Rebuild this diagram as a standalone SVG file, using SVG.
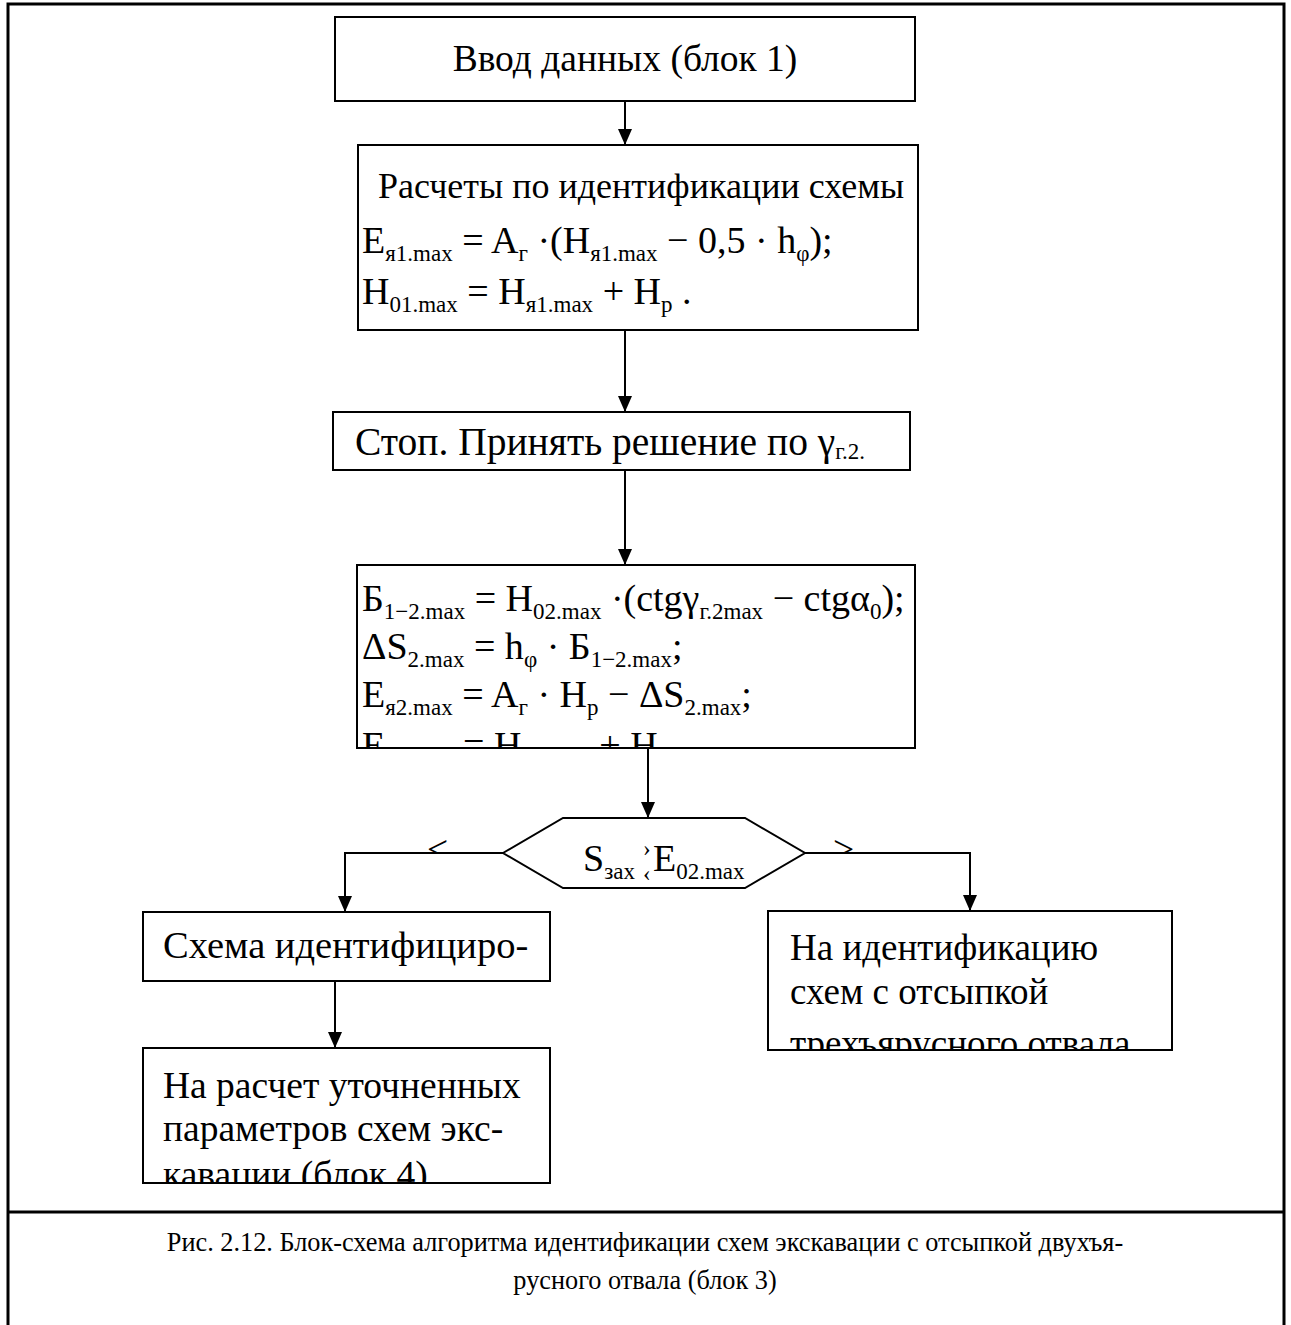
<svg xmlns="http://www.w3.org/2000/svg" width="1291" height="1325" viewBox="0 0 1291 1325">
<style>
.box{fill:#fff;stroke:#000;stroke-width:2}
.t{font-family:"Liberation Serif","Times New Roman",serif;font-size:37.5px;fill:#000}
.f{font-size:38px}
.s{font-size:23px}
.cap{font-size:26.3px}
.ln{stroke:#000;stroke-width:2;fill:none}
.frame{stroke:#000;stroke-width:3;fill:none}
</style>
<defs>
<marker id="ah" viewBox="0 0 16 14" refX="16" refY="7" markerWidth="16" markerHeight="14" markerUnits="userSpaceOnUse" orient="auto">
<path d="M0,0 L16,7 L0,14 z" fill="#000"/>
</marker>
<clipPath id="c1"><rect x="336" y="18" width="578" height="82"/></clipPath>
<clipPath id="c2"><rect x="359" y="146" width="558" height="183"/></clipPath>
<clipPath id="c3"><rect x="334" y="413" width="575" height="56"/></clipPath>
<clipPath id="c4"><rect x="358" y="566" width="556" height="181"/></clipPath>
<clipPath id="c5"><rect x="144" y="913" width="405" height="67"/></clipPath>
<clipPath id="c6"><rect x="769" y="912" width="402" height="137"/></clipPath>
<clipPath id="c7"><rect x="144" y="1049" width="405" height="133"/></clipPath>
<clipPath id="cl"><rect x="400" y="820" width="80" height="33"/></clipPath>
<clipPath id="cr"><rect x="810" y="820" width="80" height="33"/></clipPath>
</defs>

<g id="frame">
<path class="frame" d="M8,1325 V4 H1284 V1325"/>
<line class="frame" x1="8" y1="1212" x2="1284" y2="1212"/>
</g>

<g id="connectors">
<path class="ln" d="M625,101 V145" marker-end="url(#ah)"/>
<path class="ln" d="M625,330 V412" marker-end="url(#ah)"/>
<path class="ln" d="M625,470 V565" marker-end="url(#ah)"/>
<path class="ln" d="M648,748 V818" marker-end="url(#ah)"/>
<path class="ln" d="M503,853 H345 V912" marker-end="url(#ah)"/>
<path class="ln" d="M805,853 H970 V911" marker-end="url(#ah)"/>
<path class="ln" d="M335,981 V1048" marker-end="url(#ah)"/>
<text class="t" x="427" y="862" clip-path="url(#cl)">&lt;</text>
<text class="t" x="833" y="862" clip-path="url(#cr)">&gt;</text>
</g>

<g id="node1">
<rect class="box" x="335" y="17" width="580" height="84"/>
<text class="t" x="625" y="71" text-anchor="middle" clip-path="url(#c1)">Ввод данных (блок 1)</text>
</g>

<g id="node2">
<rect class="box" x="358" y="145" width="560" height="185"/>
<g clip-path="url(#c2)">
<text class="t" x="378" y="198" style="font-size:36px">Расчеты по идентификации схемы</text>
<text class="t f" x="362" y="253">E<tspan class="s" dy="8">я1.max</tspan><tspan dy="-8"> = A</tspan><tspan class="s" dy="8">г</tspan><tspan dy="-8"> ·(H</tspan><tspan class="s" dy="8">я1.max</tspan><tspan dy="-8"> − 0,5 · h</tspan><tspan class="s" dy="8">φ</tspan><tspan dy="-8">);</tspan></text>
<text class="t f" x="362" y="304">H<tspan class="s" dy="8">01.max</tspan><tspan dy="-8"> = H</tspan><tspan class="s" dy="8">я1.max</tspan><tspan dy="-8"> + H</tspan><tspan class="s" dy="8">р</tspan><tspan dy="-8"> .</tspan></text>
</g>
</g>

<g id="node3">
<rect class="box" x="333" y="412" width="577" height="58"/>
<text class="t" x="355" y="455" style="font-size:39.5px" clip-path="url(#c3)">Стоп. Принять решение по γ<tspan class="s" dy="4">г.2.</tspan></text>
</g>

<g id="node4">
<rect class="box" x="357" y="565" width="558" height="183"/>
<g clip-path="url(#c4)">
<text class="t f" x="362" y="611">Б<tspan class="s" dy="8">1−2.max</tspan><tspan dy="-8"> = H</tspan><tspan class="s" dy="8">02.max</tspan><tspan dy="-8"> ·(ctgγ</tspan><tspan class="s" dy="8">г.2max</tspan><tspan dy="-8"> − ctgα</tspan><tspan class="s" dy="8">0</tspan><tspan dy="-8">);</tspan></text>
<text class="t f" x="362" y="659">ΔS<tspan class="s" dy="8">2.max</tspan><tspan dy="-8"> = h</tspan><tspan class="s" dy="8">φ</tspan><tspan dy="-8"> · Б</tspan><tspan class="s" dy="8">1−2.max</tspan><tspan dy="-8">;</tspan></text>
<text class="t f" x="362" y="707">E<tspan class="s" dy="8">я2.max</tspan><tspan dy="-8"> = A</tspan><tspan class="s" dy="8">г</tspan><tspan dy="-8"> · H</tspan><tspan class="s" dy="8">р</tspan><tspan dy="-8"> − ΔS</tspan><tspan class="s" dy="8">2.max</tspan><tspan dy="-8">;</tspan></text>
<text class="t f" x="362" y="758">E<tspan class="s" dy="8">02.max</tspan><tspan dy="-8"> = H</tspan><tspan class="s" dy="8">01.max</tspan><tspan dy="-8"> + H</tspan><tspan class="s" dy="8">я2.max</tspan></text>
</g>
</g>

<g id="node5">
<polygon class="box" points="503,853 563,818 745,818 805,853 745,888 563,888"/>
<text class="t f" x="583" y="871">S<tspan class="s" dy="8">зах</tspan></text>
<text class="t s" x="643" y="856">›</text>
<text class="t s" x="643" y="881">‹</text>
<text class="t f" x="653" y="871">E<tspan class="s" dy="8">02.max</tspan></text>
</g>

<g id="node6">
<rect class="box" x="143" y="912" width="407" height="69"/>
<text class="t" x="163" y="958" style="font-size:38.5px" clip-path="url(#c5)">Схема идентифициро-</text>
</g>

<g id="node7">
<rect class="box" x="768" y="911" width="404" height="139"/>
<g clip-path="url(#c6)" style="font-size:37px">
<text class="t" x="790" y="960" style="font-size:37px">На идентификацию</text>
<text class="t" x="790" y="1004" style="font-size:37px">схем с отсыпкой</text>
<text class="t" x="790" y="1056" style="font-size:37px">трехъярусного отвала.</text>
</g>
</g>

<g id="node8">
<rect class="box" x="143" y="1048" width="407" height="135"/>
<g clip-path="url(#c7)">
<text class="t" x="163" y="1098">На расчет уточненных</text>
<text class="t" x="163" y="1141">параметров схем экс-</text>
<text class="t" x="163" y="1187">кавации (блок 4)</text>
</g>
</g>

<g id="caption">
<text class="t cap" x="645" y="1251" text-anchor="middle">Рис. 2.12. Блок-схема алгоритма идентификации схем экскавации с отсыпкой двухъя-</text>
<text class="t cap" x="645" y="1289" text-anchor="middle">русного отвала (блок 3)</text>
</g>
</svg>
